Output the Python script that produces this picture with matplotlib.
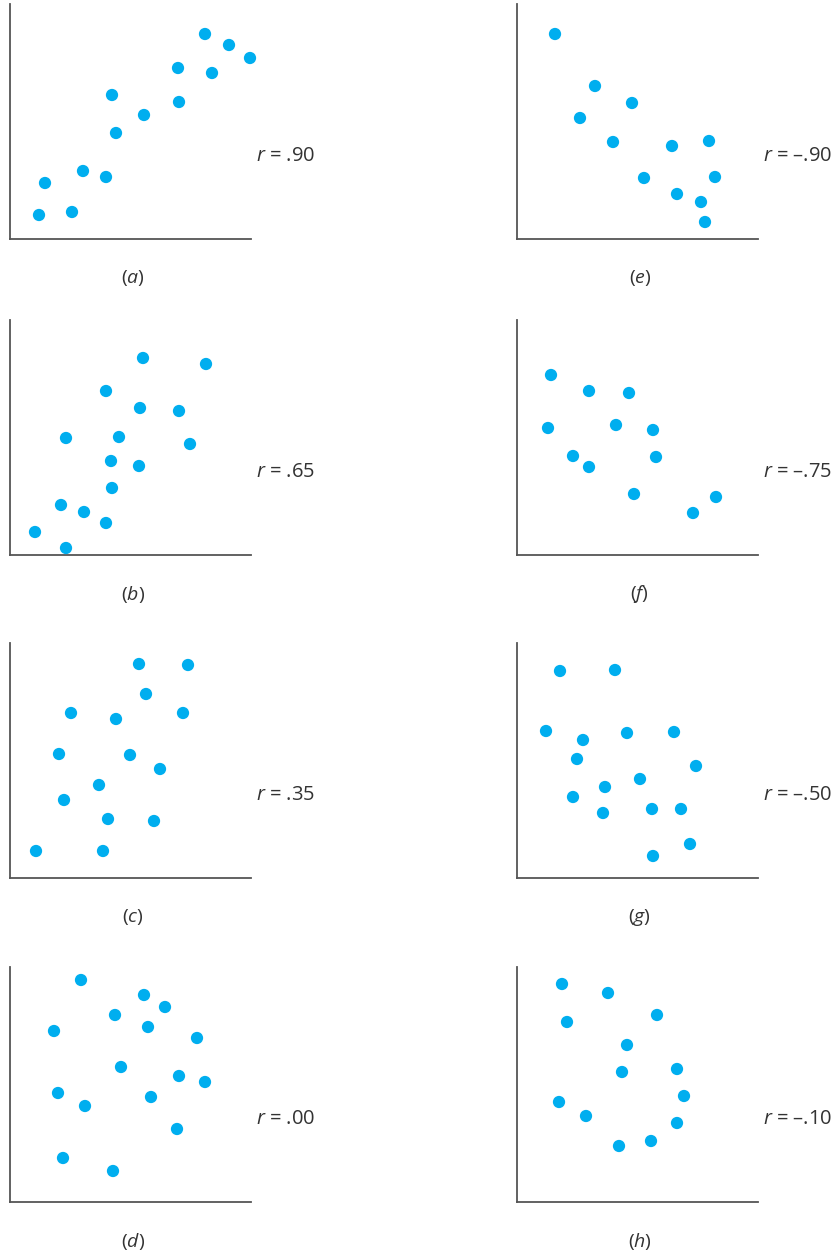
import matplotlib.pyplot as plt

plt.rcParams['font.family'] = ['Open Sans', 'DejaVu Sans']
plt.rcParams['mathtext.fontset'] = 'custom'
plt.rcParams['mathtext.it'] = 'Open Sans:italic'
plt.rcParams['mathtext.rm'] = 'Open Sans'

# scatter data per panel (x, y)
a_x = [29, 35, 62, 73, 96, 102, 106, 134, 168, 169, 195, 202, 219, 240]
a_y = [24, 56, 27, 68, 62, 144, 106, 124, 171, 137, 205, 166, 194, 181]

b_x = [133, 196, 96, 130, 169, 56, 109, 180, 101, 129, 102, 51, 74, 96, 25, 56]
b_y = [197, 191, 164, 147, 144, 117, 118, 111, 94, 89, 67, 50, 43, 32, 23, 7]

c_x = [129, 178, 136, 61, 106, 173, 49, 120, 150, 89, 54, 98, 144, 26, 93]
c_y = [214, 213, 184, 165, 159, 165, 124, 123, 109, 93, 78, 59, 57, 27, 27]

d_x = [71, 134, 155, 44, 105, 138, 187, 111, 169, 195, 48, 75, 141, 167, 53, 103]
d_y = [222, 207, 195, 171, 187, 175, 164, 135, 126, 120, 109, 96, 105, 73, 44, 31]

e_x = [38, 78, 63, 115, 96, 127, 155, 192, 160, 198, 184, 188]
e_y = [205, 153, 121, 136, 97, 61, 93, 98, 45, 62, 37, 17]

f_x = [34, 72, 112, 31, 99, 136, 56, 139, 72, 117, 199, 176]
f_y = [180, 164, 162, 127, 130, 125, 99, 98, 88, 61, 58, 42]

g_x = [43, 98, 29, 66, 110, 157, 60, 179, 123, 88, 56, 135, 164, 86, 173, 136]
g_y = [207, 208, 147, 138, 145, 146, 119, 112, 99, 91, 81, 69, 69, 65, 34, 22]

h_x = [45, 91, 50, 140, 110, 160, 105, 167, 42, 69, 160, 134, 102]
h_y = [218, 209, 180, 187, 157, 133, 130, 106, 100, 86, 79, 61, 56]

letters = ['a', 'b', 'c', 'd', 'e', 'f', 'g', 'h']
r_labels = ['.90', '.65', '.35', '.00', '\u2013.90', '\u2013.75', '\u2013.50', '\u2013.10']
xs = [a_x, b_x, c_x, d_x, e_x, f_x, g_x, h_x]
ys = [a_y, b_y, c_y, d_y, e_y, f_y, g_y, h_y]

W, H = 831, 1254
fig = plt.figure(figsize=(W / 100, H / 100), dpi=100)

col_left = [10, 517]
row_bottom = [239, 555, 878, 1202]
ax_w, ax_h = 241, 235
dot = '#00AEEF'
spine = '#555555'

for i in range(8):
    col = i // 4
    row = i % 4
    left = col_left[col]
    bottom = row_bottom[row]
    ax = fig.add_axes([left / W, 1 - bottom / H, ax_w / W, ax_h / H])
    ax.scatter(xs[i], ys[i], s=78, color=dot, edgecolors='none', clip_on=False, zorder=3)
    ax.set_xlim(0, ax_w)
    ax.set_ylim(0, ax_h)
    ax.set_xticks([])
    ax.set_yticks([])
    for s in ['top', 'right']:
        ax.spines[s].set_visible(False)
    for s in ['left', 'bottom']:
        ax.spines[s].set_color(spine)
        ax.spines[s].set_linewidth(1.3)
    ax.patch.set_alpha(0)

    # r label to the right
    ax.text(1.02, 0.352, r'$r$ = ' + r_labels[i], transform=ax.transAxes,
            fontsize=14.5, color='#333333', ha='left', va='center')
    # caption below
    ax.text(0.51, -0.168, '($' + letters[i] + '$)', transform=ax.transAxes,
            fontsize=14, color='#333333', ha='center', va='center')

fig.savefig('out.png', dpi=100)
